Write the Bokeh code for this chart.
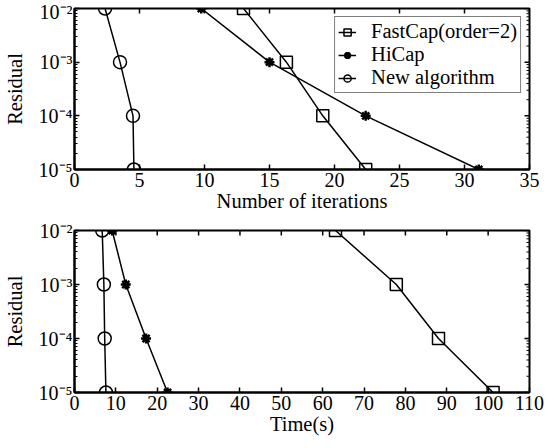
import math
from bokeh.plotting import figure
from bokeh.layouts import column
from bokeh.models import FixedTicker, Legend
from bokeh.embed import file_html
from bokeh.resources import INLINE

# ---- data ----
residual = [1e-2, 1e-3, 1e-4, 1e-5]
iter_fastcap = [13.0, 16.3, 19.1, 22.4]
iter_hicap = [9.75, 15.0, 22.4, 31.1]
iter_new = [2.35, 3.5, 4.5, 4.57]
time_fastcap = [63.1, 77.8, 88.0, 101.2]
time_hicap = [9.1, 12.4, 17.3, 22.5]
time_new = [6.7, 7.1, 7.3, 7.6]

y_ticks = [1e-5, 1e-4, 1e-3, 1e-2]
y_tick_labels = {1e-2: "10⁻²", 1e-3: "10⁻³", 1e-4: "10⁻⁴", 1e-5: "10⁻⁵"}
x_ticks_iter = [0, 5, 10, 15, 20, 25, 30, 35]
x_ticks_time = [0, 10, 20, 30, 40, 50, 60, 70, 80, 90, 100, 110]

FONT = "Liberation Serif"
FS_TICK = "20px"
FS_LABEL = "20.5px"
minor_y = [m * 10.0 ** e for e in (-5, -4, -3) for m in range(2, 10)]


def make_fig(height, x_end, x_ticks, x_label, b_top, b_bottom):
    p = figure(width=545, height=height, x_range=(0, x_end), y_range=(1e-5, 1e-2),
               y_axis_type="log", output_backend="svg", toolbar_location=None,
               min_border_left=72, min_border_right=16,
               min_border_top=b_top, min_border_bottom=b_bottom)
    p.grid.visible = False
    p.outline_line_color = "black"
    p.outline_line_width = 2
    p.background_fill_color = "white"
    p.border_fill_color = "white"

    xa = p.xaxis[0]
    xa.ticker = FixedTicker(ticks=x_ticks)
    xa.axis_label = x_label
    ya = p.yaxis[0]
    ya.ticker = FixedTicker(ticks=y_ticks, minor_ticks=minor_y)
    ya.major_label_overrides = y_tick_labels
    ya.axis_label = "Residual"

    for ax in (xa, ya):
        ax.axis_line_width = 2
        ax.axis_line_color = "black"
        ax.major_tick_in = 5
        ax.major_tick_out = 0
        ax.major_tick_line_width = 1.5
        ax.minor_tick_in = 3
        ax.minor_tick_out = 0
        ax.major_label_text_font = FONT
        ax.major_label_text_font_size = FS_TICK
        ax.major_label_text_color = "black"
        ax.axis_label_text_font = FONT
        ax.axis_label_text_font_size = FS_LABEL
        ax.axis_label_text_font_style = "normal"
        ax.axis_label_text_color = "black"
    xa.minor_tick_line_color = None
    xa.major_label_standoff = 3
    xa.axis_label_standoff = 0
    ya.major_label_standoff = 2
    ya.axis_label_standoff = 10

    # ticks on the top and right edges of the box (inward)
    p.ray(x=x_ticks, y=[1e-2] * len(x_ticks), length=5, length_units="screen",
          angle=-math.pi / 2, line_color="black", line_width=1.5)
    p.ray(x=[x_end] * len(y_ticks), y=y_ticks, length=5, length_units="screen",
          angle=math.pi, line_color="black", line_width=1.5)
    p.ray(x=[x_end] * len(minor_y), y=minor_y, length=3, length_units="screen",
          angle=math.pi, line_color="black", line_width=1)
    return p


p1 = make_fig(217, 35, x_ticks_iter, "Number of iterations", 8, 48)
p2 = make_fig(221, 110, x_ticks_time, "Time(s)", 13, 46)

for p, xs, with_legend in ((p1, (iter_fastcap, iter_hicap, iter_new), True),
                           (p2, (time_fastcap, time_hicap, time_new), False)):
    fc, hc, nw = xs
    r1 = p.line(fc, residual, line_color="black", line_width=1.5)
    s1 = p.scatter(fc, residual, marker="square", size=12, fill_color=None,
                   line_color="black", line_width=1.5)
    r2 = p.line(hc, residual, line_color="black", line_width=1.5)
    s2 = p.scatter(hc, residual, marker="asterisk", size=10,
                   line_color="black", line_width=2.5)
    r3 = p.line(nw, residual, line_color="black", line_width=1.5)
    s3 = p.scatter(nw, residual, marker="circle", size=13, fill_color=None,
                   line_color="black", line_width=1.5)
    if with_legend:
        legend = Legend(items=[("FastCap(order=2)", [r1, s1]),
                               ("HiCap", [r2, s2]),
                               ("New algorithm", [r3, s3])],
                        location="top_right")
        legend.margin = 8
        legend.padding = 3
        legend.spacing = 0
        legend.label_height = 18
        legend.glyph_height = 18
        legend.glyph_width = 18
        legend.label_standoff = 15
        legend.label_text_font = FONT
        legend.label_text_font_size = FS_LABEL
        legend.label_text_color = "black"
        legend.border_line_color = "black"
        legend.border_line_width = 1.5
        legend.background_fill_alpha = 1
        p.add_layout(legend, "center")

layout = column(p1, p2, spacing=0)
open("out.html", "w").write(file_html(layout, INLINE))
